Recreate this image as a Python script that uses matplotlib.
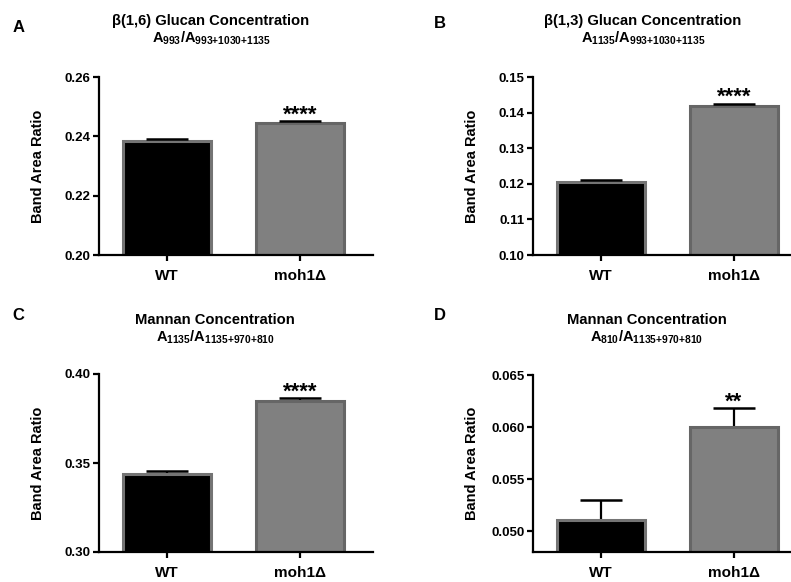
import matplotlib
matplotlib.use("Agg")
import matplotlib.pyplot as plt
import numpy as np

plt.rcParams['font.family'] = ['Liberation Sans', 'DejaVu Sans']
plt.rcParams['font.weight'] = 'bold'
plt.rcParams['mathtext.fontset'] = 'custom'
plt.rcParams['mathtext.rm'] = 'Liberation Sans:bold'
plt.rcParams['mathtext.it'] = 'Liberation Sans:bold'
plt.rcParams['mathtext.bf'] = 'Liberation Sans:bold'

# ---- data ----
categories = ["WT", "moh1\u0394"]

glucan16_mean = [0.2383, 0.2445]
glucan16_sem = [0.0007, 0.0006]
glucan16_sig = "****"

glucan13_mean = [0.1206, 0.1419]
glucan13_sem = [0.0004, 0.0006]
glucan13_sig = "****"

mannan1135_mean = [0.3440, 0.3851]
mannan1135_sem = [0.0013, 0.0014]
mannan1135_sig = "****"

mannan810_mean = [0.05106, 0.0600]
mannan810_sem = [0.0019, 0.0018]
mannan810_sig = "**"

panel_letters = ["A", "B", "C", "D"]
titles = ["\u03b2(1,6) Glucan Concentration", "\u03b2(1,3) Glucan Concentration",
          "Mannan Concentration", "Mannan Concentration"]
subtitles = [r"$A_{993}/A_{993{+}1030{+}1135}$",
             r"$A_{1135}/A_{993{+}1030{+}1135}$",
             r"$A_{1135}/A_{1135{+}970{+}810}$",
             r"$A_{810}/A_{1135{+}970{+}810}$"]
ylims = [(0.20, 0.26), (0.10, 0.15), (0.30, 0.40), (0.048, 0.065)]
yticks = [[0.20, 0.22, 0.24, 0.26],
          [0.10, 0.11, 0.12, 0.13, 0.14, 0.15],
          [0.30, 0.35, 0.40],
          [0.050, 0.055, 0.060, 0.065]]
yfmt = ["{:.2f}", "{:.2f}", "{:.2f}", "{:.3f}"]

means = [glucan16_mean, glucan13_mean, mannan1135_mean, mannan810_mean]
sems = [glucan16_sem, glucan13_sem, mannan1135_sem, mannan810_sem]
sigs = [glucan16_sig, glucan13_sig, mannan1135_sig, mannan810_sig]

W, H = 791, 582
fig = plt.figure(figsize=(W / 100, H / 100), dpi=100)

# axes placement in pixels: (left, top, right, bottom)
boxes = [(99, 77, 373, 255), (533, 77, 807, 255),
         (99, 374, 373, 552), (533, 375, 807, 552)]
title_x = [211, 643, 215, 647]
title_y = [21, 21, 320, 320]
letter_pos = [(19, 27), (440, 24), (18, 315), (440, 315)]

face_colors = ["#000000", "#808080"]
edge_colors = ["#747474", "#666666"]

for i in range(4):
    l, t, r, b = boxes[i]
    ax = fig.add_axes([l / W, 1 - b / H, (r - l) / W, (b - t) / H])
    x = np.arange(len(categories))
    m = np.array(means[i])
    s = np.array(sems[i])
    ax.bar(x, m, width=0.66, color=face_colors, edgecolor=edge_colors,
           linewidth=2.2, zorder=2)
    ax.vlines(x, m, m + s, color="black", linewidth=1.6, zorder=1)
    ax.hlines(m + s, x - 0.16, x + 0.16, color="black", linewidth=1.8, zorder=3)
    ax.annotate(sigs[i], xy=(x[1], (m + s)[1]), xytext=(0, 0.5),
                textcoords="offset points", ha="center", va="baseline",
                fontsize=16, fontweight="bold")
    ax.set_xlim(-0.51, 1.55)
    ax.set_ylim(*ylims[i])
    ax.set_yticks(yticks[i])
    ax.set_yticklabels([yfmt[i].format(v) for v in yticks[i]])
    ax.set_xticks(x)
    ax.set_xticklabels(categories)
    for sp in ["top", "right"]:
        ax.spines[sp].set_visible(False)
    for sp in ["left", "bottom"]:
        ax.spines[sp].set_linewidth(1.6)
    ax.tick_params(axis="y", length=4, width=1.6, pad=2, labelsize=9.5)
    ax.tick_params(axis="x", length=4, width=1.6, pad=6, labelsize=11)
    ax.set_ylabel("Band Area Ratio", fontsize=10.5, fontweight="bold")
    ax.yaxis.set_label_coords(-54 / (r - l), 0.5)

    fig.text(title_x[i] / W, 1 - title_y[i] / H, titles[i], ha="center",
             va="center", fontsize=10.6, fontweight="bold")
    fig.text(title_x[i] / W, 1 - (title_y[i] + 22) / H, subtitles[i],
             ha="center", va="baseline", fontsize=10.5)
    lx, ly = letter_pos[i]
    fig.text(lx / W, 1 - ly / H, panel_letters[i], ha="center", va="center",
             fontsize=12, fontweight="bold")

fig.savefig("out.png", dpi=100)
